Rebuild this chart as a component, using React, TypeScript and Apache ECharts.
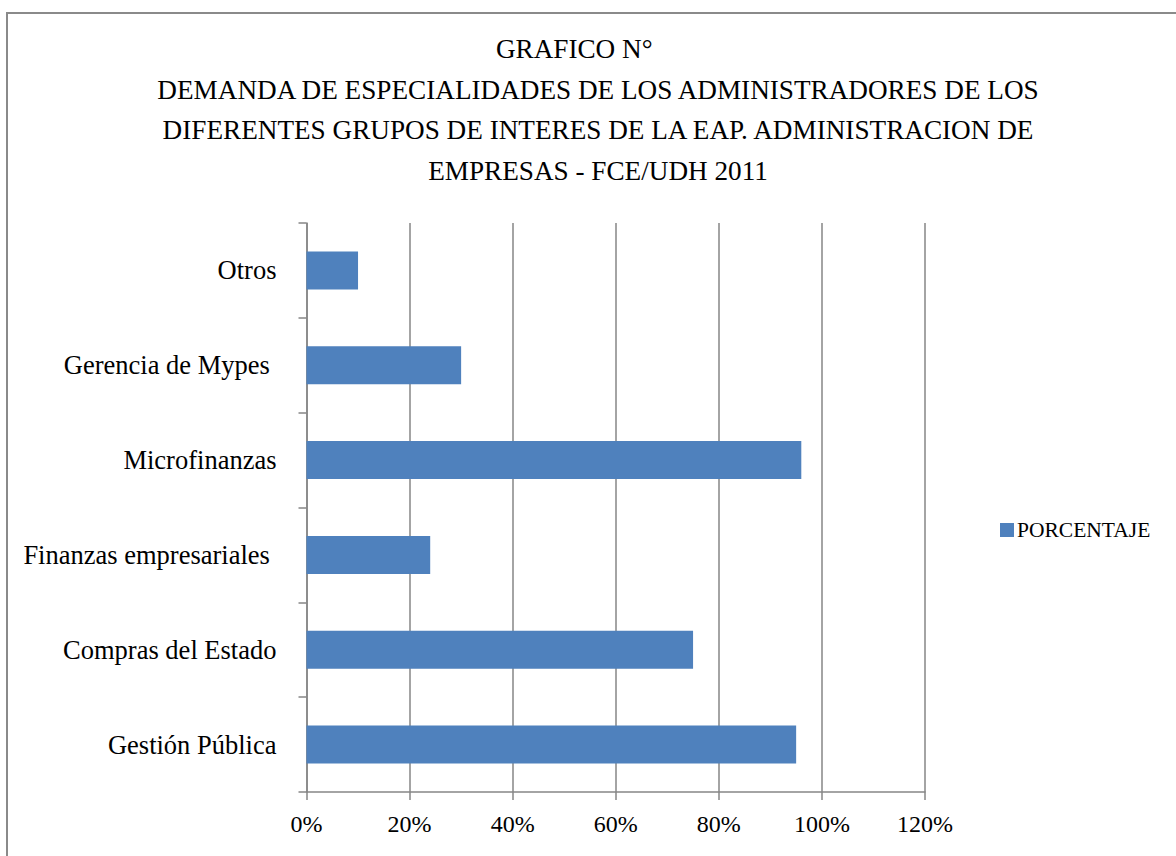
import React, { useEffect, useRef } from "react";
import * as echarts from "echarts";

const titleLines = [
  "GRAFICO N°       ",
  "DEMANDA DE ESPECIALIDADES DE LOS ADMINISTRADORES DE LOS",
  "DIFERENTES GRUPOS DE INTERES DE LA EAP. ADMINISTRACION DE",
  "EMPRESAS - FCE/UDH 2011",
];
const categories = [
  "Gestión Pública",
  "Compras del Estado",
  "Finanzas empresariales ",
  "Microfinanzas",
  "Gerencia de Mypes ",
  "Otros",
];
const values = [95, 75, 24, 96, 30, 10];
const seriesName = "PORCENTAJE";

const FONT = "Liberation Serif";
const GRAY = "#868686";

export default function App() {
  const ref = useRef<HTMLDivElement>(null);
  useEffect(() => {
    if (!ref.current) return;
    const chart = echarts.init(ref.current, undefined, { renderer: "svg" });
    chart.setOption({
      animation: false,
      backgroundColor: "#ffffff",
      title: {
        text: titleLines.join("\n"),
        left: 593,
        top: 24,
        textAlign: "center",
        textStyle: {
          fontFamily: FONT,
          fontSize: 27.2,
          fontWeight: "normal",
          color: "#000",
          lineHeight: 40.5,
        },
      },
      legend: {
        data: [seriesName],
        left: 995,
        top: 514,
        icon: "rect",
        itemWidth: 14,
        itemHeight: 14,
        itemGap: 6,
        textStyle: { fontFamily: FONT, fontSize: 21.5, color: "#000", padding: [0, 0, 0, -2] },
      },
      graphic: [
        {
          type: "rect",
          shape: { x: 7, y: 13, width: 1300, height: 1000 },
          style: { fill: "none", stroke: "#8a8a8a", lineWidth: 2 },
          silent: true,
        },
      ],
      grid: {
        left: 306.5,
        top: 223,
        width: 618.5,
        height: 569,
        containLabel: false,
      },
      xAxis: {
        type: "value",
        min: 0,
        max: 120,
        interval: 20,
        axisLine: { show: true, lineStyle: { color: GRAY, width: 1.5 } },
        axisTick: { show: true, length: 8, lineStyle: { color: GRAY, width: 1.5 } },
        splitLine: { show: true, lineStyle: { color: GRAY, width: 1.5 } },
        axisLabel: {
          formatter: "{value}%",
          fontFamily: FONT,
          fontSize: 24,
          color: "#000",
          margin: 20,
        },
      },
      yAxis: {
        type: "category",
        data: categories,
        axisLine: { show: true, lineStyle: { color: GRAY, width: 1.5 } },
        axisTick: { show: true, length: 8, lineStyle: { color: GRAY, width: 1.5 } },
        axisLabel: {
          fontFamily: FONT,
          fontSize: 26.5,
          color: "#000",
          margin: 30,
        },
      },
      series: [
        {
          name: seriesName,
          type: "bar",
          data: values,
          barCategoryGap: "60%",
          itemStyle: { color: "#4F81BD" },
        },
      ],
    });
    return () => chart.dispose();
  }, []);
  return (
    <div
      ref={ref}
      style={{ position: "absolute", left: 0, top: 0, width: 1176, height: 856 }}
    />
  );
}
